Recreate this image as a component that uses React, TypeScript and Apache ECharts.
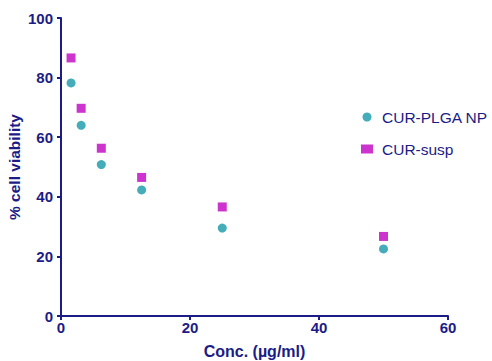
import React, { useEffect, useRef } from "react";
import * as echarts from "echarts";

const concentrations = [1.56, 3.125, 6.25, 12.5, 25, 50];
const plgaNP = [78.2, 64.0, 50.8, 42.3, 29.5, 22.5];
const susp = [86.6, 69.7, 56.3, 46.5, 36.6, 26.7];
const seriesNames = ["CUR-PLGA NP", "CUR-susp"];

const NAVY = "#1c1c86";
const TEAL = "#1797a8";
const MAGENTA = "#c000c0";
const FONT = "Liberation Sans, Arial, sans-serif";

export default function App() {
  const ref = useRef<HTMLDivElement>(null);
  useEffect(() => {
    if (!ref.current) return;
    const chart = echarts.init(ref.current, null, { renderer: "svg" });
    chart.setOption({
      animation: false,
      backgroundColor: "#ffffff",
      grid: { left: 61, right: 44, top: 18, bottom: 45, containLabel: false, outerBoundsMode: "none" },
      legend: {
        orient: "vertical",
        left: 356,
        top: 104,
        itemWidth: 12,
        itemHeight: 9,
        itemGap: 16,
        textStyle: { color: NAVY, fontSize: 15.5, fontFamily: FONT, padding: [0, 0, 0, 4] },
        data: [
          { name: seriesNames[0], icon: "circle" },
          { name: seriesNames[1], icon: "rect" },
        ],
      },
      xAxis: {
        type: "value",
        min: 0,
        max: 60,
        interval: 20,
        name: "Conc. (µg/ml)",
        nameLocation: "middle",
        nameGap: 27,
        nameMoveOverlap: false,
        nameTextStyle: { color: NAVY, fontSize: 16, fontWeight: "bold", fontFamily: FONT },
        axisLine: { show: true, lineStyle: { color: NAVY, width: 2 } },
        axisTick: { show: true, length: 4, lineStyle: { color: NAVY, width: 2 } },
        axisLabel: { color: NAVY, fontSize: 15, fontWeight: "bold", margin: 4, fontFamily: FONT },
        splitLine: { show: false },
      },
      yAxis: {
        type: "value",
        min: 0,
        max: 100,
        interval: 20,
        name: "% cell viability",
        nameLocation: "middle",
        nameGap: 39,
        nameMoveOverlap: false,
        nameTextStyle: { color: NAVY, fontSize: 15.5, fontWeight: "bold", fontFamily: FONT },
        axisLine: { show: true, lineStyle: { color: NAVY, width: 2 } },
        axisTick: { show: true, length: 4, lineStyle: { color: NAVY, width: 2 } },
        axisLabel: { color: NAVY, fontSize: 15, fontWeight: "bold", margin: 8, fontFamily: FONT },
        splitLine: { show: false },
      },
      series: [
        {
          name: seriesNames[0],
          type: "scatter",
          symbol: "circle",
          symbolSize: 9,
          itemStyle: { color: TEAL },
          data: concentrations.map((c, i) => [c, plgaNP[i]]),
        },
        {
          name: seriesNames[1],
          type: "scatter",
          symbol: "rect",
          symbolSize: 9,
          itemStyle: { color: MAGENTA },
          data: concentrations.map((c, i) => [c, susp[i]]),
        },
      ],
    });
    return () => chart.dispose();
  }, []);
  return <div ref={ref} style={{ width: 492, height: 361, position: "absolute", left: 0, top: 0 }} />;
}
